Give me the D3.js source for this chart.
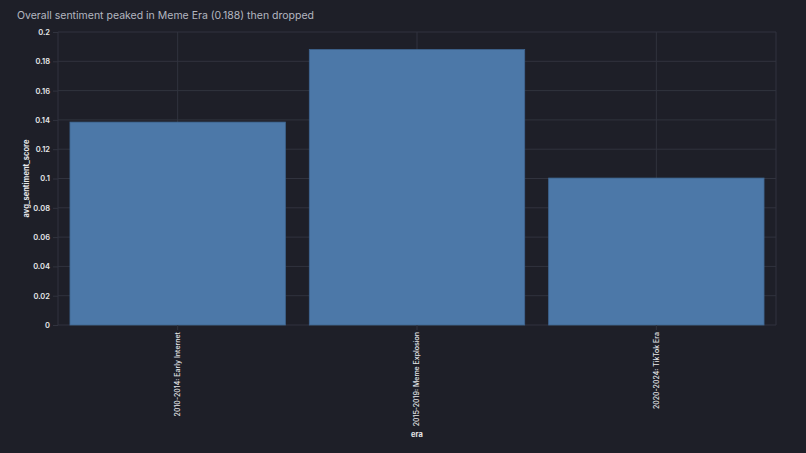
<!DOCTYPE html>
<html>
<head>
<meta charset="utf-8">
<script src="https://cdn.jsdelivr.net/npm/d3@7"></script>
<style>
  html, body { margin: 0; padding: 0; background: #1e1f28; }
  svg { display: block; font-family: Inter, "Noto Sans", sans-serif; }
</style>
</head>
<body>
<svg id="chart" width="806" height="453"></svg>
<script>
var eras = ["2010-2014: Early Internet", "2015-2019: Meme Explosion", "2020-2024: TikTok Era"];
var sentiment = [0.1385, 0.188, 0.1003];
var yTicks = [0, 0.02, 0.04, 0.06, 0.08, 0.1, 0.12, 0.14, 0.16, 0.18, 0.2];

var svg = d3.select("#chart");
var margin = { left: 58, right: 30, top: 32, bottom: 128 };
var width = 806 - margin.left - margin.right;
var height = 453 - margin.top - margin.bottom;

svg.append("text")
    .attr("x", 17)
    .attr("y", 19)
    .attr("fill", "#b4b7c0")
    .attr("font-size", 10.5)
    .text("Overall sentiment peaked in Meme Era (0.188) then dropped");

var g = svg.append("g").attr("transform", "translate(" + margin.left + "," + margin.top + ")");

var x = d3.scaleBand().domain(eras).range([0, width]).paddingInner(0.1).paddingOuter(0.05);
var y = d3.scaleLinear().domain([0, 0.2]).range([height, 0]);

// grid
g.append("g").selectAll("line.h")
    .data(yTicks)
    .enter().append("line")
    .attr("x1", 0).attr("x2", width)
    .attr("y1", function (d) { return y(d); })
    .attr("y2", function (d) { return y(d); })
    .attr("stroke", "#31333e");
g.append("g").selectAll("line.v")
    .data(eras)
    .enter().append("line")
    .attr("x1", function (d) { return x(d) + x.bandwidth() / 2; })
    .attr("x2", function (d) { return x(d) + x.bandwidth() / 2; })
    .attr("y1", 0).attr("y2", height)
    .attr("stroke", "#31333e");
g.append("line").attr("x1", 0).attr("x2", 0).attr("y1", 0).attr("y2", height).attr("stroke", "#31333e");
g.append("line").attr("x1", width).attr("x2", width).attr("y1", 0).attr("y2", height).attr("stroke", "#31333e");

// bars
g.selectAll("rect.bar")
    .data(eras)
    .enter().append("rect")
    .attr("class", "bar")
    .attr("x", function (d) { return x(d); })
    .attr("width", x.bandwidth())
    .attr("y", function (d, i) { return y(sentiment[i]); })
    .attr("height", function (d, i) { return height - y(sentiment[i]); })
    .attr("fill", "#4c78a8")
    .attr("stroke", "#3f6690")
    .attr("stroke-width", 0.8);

// y axis
var yAxis = d3.axisLeft(y).tickValues(yTicks).tickSize(5).tickPadding(3)
    .tickFormat(function (d) { return String(+d.toFixed(2)); });
var ya = g.append("g").call(yAxis);
ya.select(".domain").remove();
ya.selectAll(".tick line").attr("stroke", "#31333e");
ya.selectAll(".tick text").attr("fill", "#e6e7ea").attr("font-size", 7.5).attr("font-weight", 600)
    .attr("font-family", "Inter, sans-serif");

// x axis
var xAxis = d3.axisBottom(x).tickSize(5).tickPadding(3);
var xa = g.append("g").attr("transform", "translate(0," + height + ")").call(xAxis);
xa.select(".domain").remove();
xa.selectAll(".tick line").attr("stroke", "#31333e");
xa.selectAll(".tick text")
    .attr("fill", "#e6e7ea").attr("font-size", 7).attr("font-weight", 500)
    .attr("font-family", "Inter, sans-serif")
    .attr("transform", "rotate(-90)")
    .attr("text-anchor", "end")
    .attr("x", -7).attr("y", 0).attr("dy", "0.32em");

// axis titles
svg.append("text")
    .attr("x", margin.left + width / 2)
    .attr("y", 437)
    .attr("text-anchor", "middle")
    .attr("fill", "#e6e7ea").attr("font-size", 7.5).attr("font-weight", 700)
    .text("era");
svg.append("text")
    .attr("transform", "translate(29," + (margin.top + height / 2) + ") rotate(-90)")
    .attr("text-anchor", "middle")
    .attr("fill", "#e6e7ea").attr("font-size", 7.5).attr("font-weight", 700)
    .text("avg_sentiment_score");
</script>
</body>
</html>
